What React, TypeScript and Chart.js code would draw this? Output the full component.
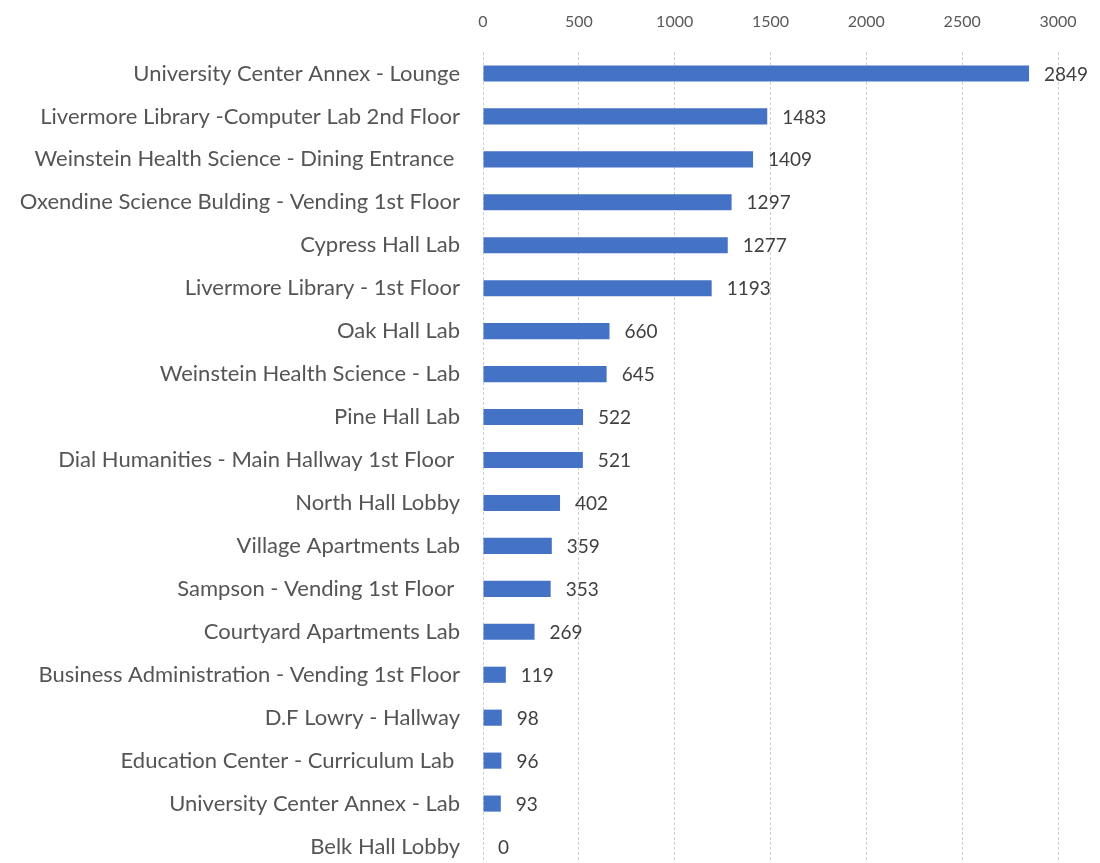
import React, { useEffect, useRef } from "react";
import { Chart, registerables } from "chart.js";

Chart.register(...registerables);

const categories = [
  "University Center Annex - Lounge",
  "Livermore Library -Computer Lab 2nd Floor",
  "Weinstein Health Science - Dining Entrance ",
  "Oxendine Science Bulding - Vending 1st Floor",
  "Cypress Hall Lab",
  "Livermore Library - 1st Floor",
  "Oak Hall Lab",
  "Weinstein Health Science - Lab",
  "Pine Hall Lab",
  "Dial Humanities - Main Hallway 1st Floor ",
  "North Hall Lobby",
  "Village Apartments Lab",
  "Sampson - Vending 1st Floor ",
  "Courtyard Apartments Lab",
  "Business Administration - Vending 1st Floor",
  "D.F Lowry - Hallway",
  "Education Center - Curriculum Lab ",
  "University Center Annex - Lab",
  "Belk Hall Lobby",
];

const values = [2849, 1483, 1409, 1297, 1277, 1193, 660, 645, 522, 521, 402, 359, 353, 269, 119, 98, 96, 93, 0];

const xMin = 0;
const xMax = 3000;
const xStep = 500;

const FONT = "Lato, 'Open Sans', sans-serif";

const dataLabels = {
  id: "dataLabels",
  afterDatasetsDraw(chart: any) {
    const ctx = chart.ctx;
    const meta = chart.getDatasetMeta(0);
    ctx.save();
    ctx.font = `19px ${FONT}`;
    ctx.fillStyle = "#404040";
    ctx.textAlign = "left";
    ctx.textBaseline = "middle";
    meta.data.forEach((el: any, i: number) => {
      ctx.fillText(String(values[i]), el.x + 15, el.y + 1);
    });
    ctx.restore();
  },
};

export default function App() {
  const ref = useRef<HTMLCanvasElement>(null);

  useEffect(() => {
    if (!ref.current) return;
    const chart = new Chart(ref.current, {
      type: "bar",
      data: {
        labels: categories,
        datasets: [
          {
            data: values,
            backgroundColor: "#4472C4",
            borderWidth: 0,
            barPercentage: 0.75,
            categoryPercentage: 0.5,
          },
        ],
      },
      options: {
        indexAxis: "y",
        animation: false,
        responsive: false,
        maintainAspectRatio: false,
        layout: { padding: { left: 0, right: 42, top: 0, bottom: 0 } },
        plugins: {
          legend: { display: false },
          tooltip: { enabled: false },
        },
        scales: {
          x: {
            position: "top",
            min: xMin,
            max: xMax,
            afterFit: (scale: any) => {
              scale.height = 52;
              scale.paddingLeft = 0;
              scale.paddingRight = 0;
            },
            ticks: {
              stepSize: xStep,
              padding: 21,
              color: "#595959",
              font: { family: FONT, size: 16 },
              callback: (v: any) => String(v),
            },
            grid: {
              color: "#d0d0d0",
              lineWidth: 1,
              drawTicks: false,
            },
            border: { display: false, dash: [3, 2] },
          },
          y: {
            afterFit: (scale: any) => {
              scale.width = 483;
              scale.paddingTop = 0;
              scale.paddingBottom = 0;
            },
            ticks: {
              padding: 23,
              color: "#555555",
              font: { family: FONT, size: 22 },
              autoSkip: false,
            },
            grid: { display: false, drawTicks: false },
            border: { display: false },
          },
        },
      },
      plugins: [dataLabels],
    });
    return () => chart.destroy();
  }, []);

  return (
    <div
      style={{
        position: "fixed",
        left: 0,
        top: 0,
        width: 1100,
        height: 863,
        overflow: "hidden",
        background: "#fff",
      }}
    >
      <canvas ref={ref} width={1100} height={868} style={{ display: "block" }} />
    </div>
  );
}
